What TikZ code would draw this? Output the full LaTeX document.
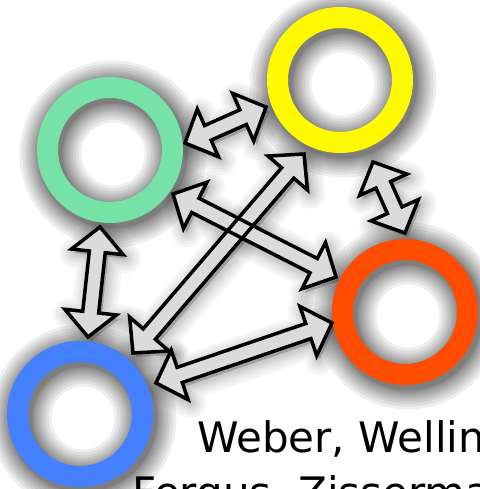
\documentclass[tikz,border=0pt]{standalone}
\usepackage{fontspec}
\setmainfont{DejaVu Sans}
\usetikzlibrary{calc}

\definecolor{ringgreen}{RGB}{118,226,168}
\definecolor{ringyellow}{RGB}{255,250,0}
\definecolor{ringorange}{RGB}{255,76,0}
\definecolor{ringblue}{RGB}{68,128,255}

\tikzset{
    ring/.style={circle, draw=#1, line width=21pt, minimum size=125pt, inner sep=0pt},
    ringshade/.style={draw=black, opacity=0.065},
    linkfill/.style={fill=gray!28},
    linkline/.style={draw=black, line width=3.5pt, line join=miter},
    linkshade/.style={draw=black, fill=black, opacity=0.035, line join=round},
    authors/.style={anchor=base west, inner sep=0pt, font=\fontsize{42}{50}\selectfont}
}

% hollow double arrow between two tips
\newcommand\linkarrow[3]{%
    \path[#3] (#1)
        -- ($(#1)!25pt!(#2)!26pt!90:(#2)$) -- ($(#1)!25pt!(#2)!8pt!90:(#2)$)
        -- ($(#2)!25pt!(#1)!8pt!-90:(#1)$) -- ($(#2)!25pt!(#1)!26pt!-90:(#1)$)
        -- (#2)
        -- ($(#2)!25pt!(#1)!26pt!90:(#1)$) -- ($(#2)!25pt!(#1)!8pt!90:(#1)$)
        -- ($(#1)!25pt!(#2)!8pt!-90:(#2)$) -- ($(#1)!25pt!(#2)!26pt!-90:(#2)$)
        -- cycle;}

\begin{document}
\begin{tikzpicture}[x=1pt, y=-1pt]
    \fill[white] (0,0) rectangle (479,489);
    \useasboundingbox (0,0) rectangle (479,489);

    \coordinate (green) at (110,150);
    \coordinate (yellow) at (340,80);
    \coordinate (orange) at (405,312);
    \coordinate (blue) at (80,414);

    \coordinate (gy1) at (185,143);
    \coordinate (gy2) at (266,107);
    \coordinate (gb1) at (100,227);
    \coordinate (gb2) at (88,337);
    \coordinate (yo1) at (373,162);
    \coordinate (yo2) at (405,233);
    \coordinate (go1) at (173,194);
    \coordinate (go2) at (336,277);
    \coordinate (yb1) at (304,154);
    \coordinate (yb2) at (133,353);
    \coordinate (bo1) at (156,383);
    \coordinate (bo2) at (332,323);

    \begin{scope}[transform canvas={shift={(3pt,-4pt)}}]
        \foreach \c in {green,yellow,orange,blue} {
            \foreach \w in {62,56,50,45,40,36,32,28,25,23} {
                \draw[ringshade, line width=\w pt] (\c) circle (62.5);
            }
        }
        \foreach \a/\b in {gy1/gy2,gb1/gb2,yo1/yo2,go1/go2,yb1/yb2,bo1/bo2} {
            \foreach \w in {30,24,18,13,9,5} {
                \linkarrow{\a}{\b}{linkshade, line width=\w pt}
            }
        }
    \end{scope}

    \node[ring=ringgreen] (greenring) at (green) {};
    \node[ring=ringyellow] (yellowring) at (yellow) {};
    \node[ring=ringorange] (orangering) at (orange) {};
    \node[ring=ringblue] (bluering) at (blue) {};

    \foreach \a/\b in {gy1/gy2,gb1/gb2,yo1/yo2,go1/go2,yb1/yb2,bo1/bo2} {
        \linkarrow{\a}{\b}{linkfill}
    }
    \foreach \a/\b in {gy1/gy2,gb1/gb2,yo1/yo2,go1/go2,yb1/yb2,bo1/bo2} {
        \linkarrow{\a}{\b}{linkline}
    }

    \node[authors] (authors1) at (197,452) {Weber, Welling};
    \node[authors] (authors2) at (132,507) {Fergus, Zisserman};
\end{tikzpicture}
\end{document}
